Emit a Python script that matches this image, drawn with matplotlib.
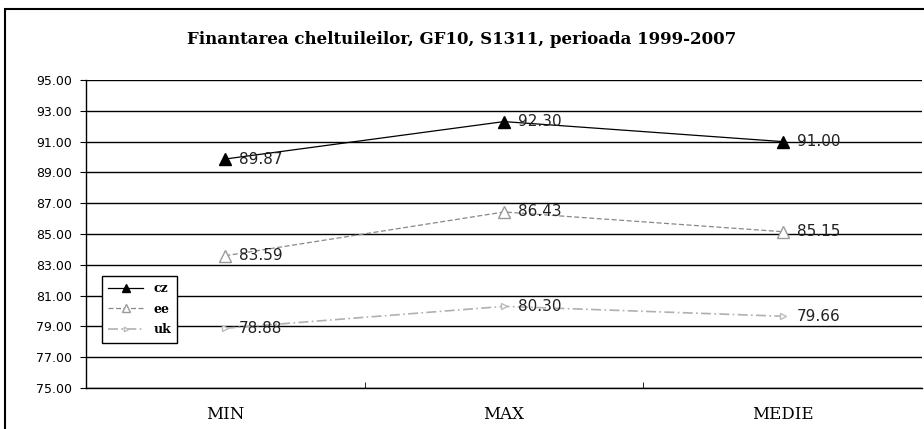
import matplotlib
matplotlib.use('Agg')
import matplotlib.pyplot as plt
from matplotlib.patches import Rectangle

categories = ['MIN', 'MAX', 'MEDIE']
cz = [89.87, 92.30, 91.00]
ee = [83.59, 86.43, 85.15]
uk = [78.88, 80.30, 79.66]
y_ticks = [75, 77, 79, 81, 83, 85, 87, 89, 91, 93, 95]

fig = plt.figure(figsize=(9.24, 4.29), dpi=100)

# outer chart frame (scanned Excel chart border)
fig.patches.append(Rectangle((5 / 924, -0.01), 1.0, (429 - 9) / 429 + 0.01,
                             transform=fig.transFigure, fill=False,
                             edgecolor='black', linewidth=1.5))

ax = fig.add_axes([86 / 924, 41 / 429, 836 / 924, 308 / 429])
x = list(range(len(categories)))

ax.plot(x, cz, color='black', lw=0.9, marker='^', ms=8, mfc='black', mec='black', label='cz')
ax.plot(x, ee, color='#888888', lw=0.9, ls=(0, (4, 2)), marker='^', ms=8,
        mfc='white', mec='#999999', label='ee')
ax.plot(x, uk, color='#b0b0b0', lw=1.2, ls=(0, (6, 2, 1, 2)), marker='>', ms=4,
        mfc='white', mec='#bbbbbb', label='uk')

for series in (cz, ee, uk):
    for xi, v in zip(x, series):
        ax.annotate(f'{v:.2f}', (xi, v), xytext=(10, 0), textcoords='offset points',
                    va='center', ha='left', fontsize=11, color='#222222',
                    family='DejaVu Sans')

ax.set_xlim(-0.5, 2.5)
ax.set_ylim(75, 95)
ax.set_yticks(y_ticks)
ax.set_yticklabels([f'{t:.2f}' for t in y_ticks], fontsize=9)
ax.yaxis.grid(True, color='black', lw=1.0)
ax.set_axisbelow(True)
ax.set_xticks(x)
ax.set_xticklabels(categories, family='DejaVu Serif', fontsize=12)
ax.set_xticks([0.5, 1.5], minor=True)
ax.tick_params(axis='x', which='major', length=0, pad=13)
ax.tick_params(axis='x', which='minor', length=4, direction='in')
ax.tick_params(axis='y', length=4, pad=6)
for s in ('top', 'right'):
    ax.spines[s].set_visible(False)
ax.spines['left'].set_linewidth(1.0)
ax.spines['bottom'].set_linewidth(1.0)

fig.text(0.5, (429 - 40) / 429, 'Finantarea cheltuileilor, GF10, S1311, perioada 1999-2007',
         ha='center', va='center', fontsize=12, fontweight='bold', family='DejaVu Serif')

leg = ax.legend(loc='upper left', bbox_to_anchor=(16 / 836, (388 - 276) / 308),
                frameon=True, fancybox=False, edgecolor='black', framealpha=1,
                handlelength=2.8, borderpad=0.5, labelspacing=0.6, borderaxespad=0,
                markerscale=0.8,
                prop={'family': 'DejaVu Serif', 'weight': 'bold', 'size': 9})
leg.get_frame().set_linewidth(1.0)

fig.savefig('out.png', dpi=100)
